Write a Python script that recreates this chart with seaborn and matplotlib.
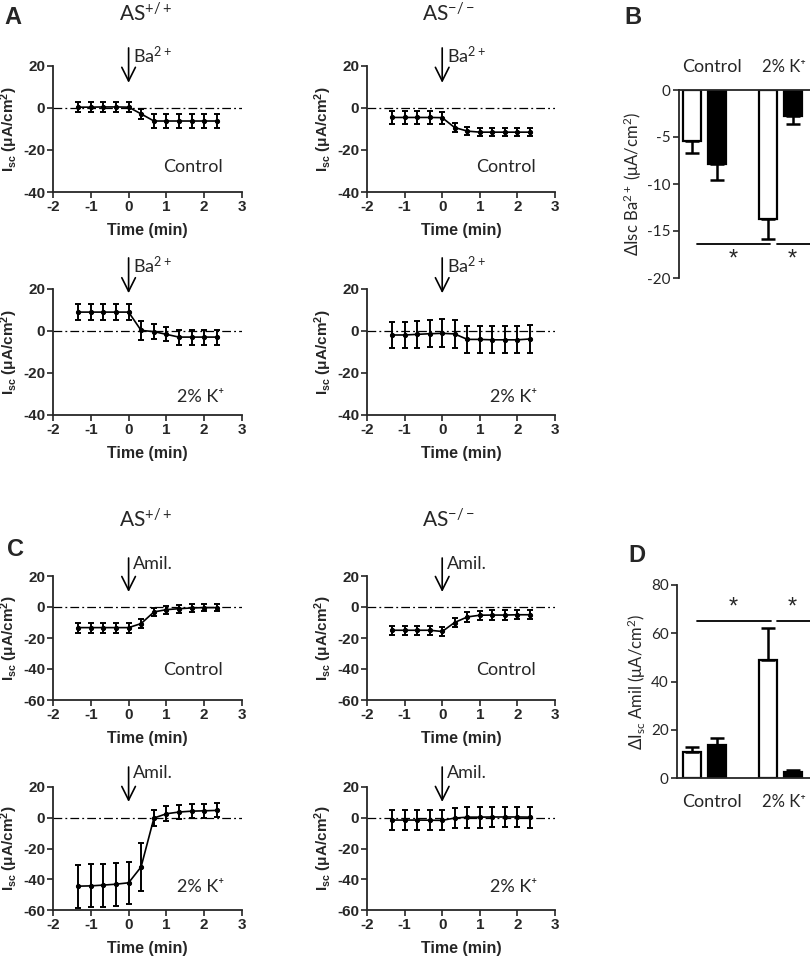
import matplotlib
matplotlib.use("Agg")
import matplotlib.pyplot as plt
import pandas as pd
import seaborn as sns

# time points (min) relative to drug addition
time_min = [-1.33, -1.0, -0.67, -0.33, 0.0, 0.33, 0.67, 1.0, 1.33, 1.67, 2.0, 2.33]

# Isc traces (uA/cm2), mean and SEM
ba_wt_ctrl = [0.4, 0.4, 0.5, 0.5, 0.4, -2.8, -6.2, -6.2, -6.2, -6.2, -6.2, -6.2]
ba_wt_ctrl_sem = [2.4, 2.4, 2.4, 2.4, 2.4, 2.4, 3.3, 3.3, 3.3, 3.3, 3.3, 3.3]
ba_ko_ctrl = [-4.5, -4.5, -4.5, -4.5, -4.6, -9.3, -11.0, -11.5, -11.5, -11.5, -11.5, -11.5]
ba_ko_ctrl_sem = [2.9, 2.9, 2.9, 2.9, 2.9, 2.0, 2.0, 2.0, 2.0, 2.0, 2.0, 2.0]
ba_wt_k = [9.0, 9.0, 9.0, 9.0, 9.0, 0.3, -0.3, -1.6, -2.9, -2.9, -2.9, -2.9]
ba_wt_k_sem = [3.7, 3.7, 3.7, 3.7, 3.7, 4.6, 3.7, 3.3, 3.6, 3.6, 3.6, 3.6]
ba_ko_k = [-1.9, -1.9, -1.6, -1.3, -1.1, -1.4, -4.0, -4.0, -4.2, -4.2, -4.2, -3.8]
ba_ko_k_sem = [6.2, 6.2, 6.3, 6.4, 6.6, 6.5, 6.3, 6.3, 6.4, 6.4, 6.4, 6.5]

amil_wt_ctrl = [-13.3, -13.3, -13.3, -13.3, -13.3, -10.7, -3.2, -1.7, -1.1, -0.6, -0.4, -0.4]
amil_wt_ctrl_sem = [3.2, 3.2, 3.2, 3.2, 3.2, 3.0, 2.5, 2.5, 2.5, 2.5, 2.5, 2.5]
amil_ko_ctrl = [-15.0, -15.0, -15.0, -15.0, -15.8, -10.0, -6.4, -5.3, -5.2, -5.2, -5.0, -5.0]
amil_ko_ctrl_sem = [3.0, 3.0, 3.0, 3.0, 3.0, 3.0, 3.0, 3.0, 3.0, 3.0, 3.0, 3.0]
amil_wt_k = [-44.5, -44.3, -43.8, -43.2, -42.3, -32.0, -0.2, 2.6, 3.7, 4.3, 4.5, 4.8]
amil_wt_k_sem = [14.0, 14.0, 14.0, 14.0, 13.8, 15.5, 5.2, 4.9, 4.5, 4.5, 4.5, 4.5]
amil_ko_k = [-1.5, -1.5, -1.5, -1.6, -1.7, -0.2, 0.4, 0.4, 0.5, 0.5, 0.5, 0.4]
amil_ko_k_sem = [6.5, 6.5, 6.5, 6.5, 6.5, 6.6, 6.8, 6.8, 6.8, 6.8, 6.8, 6.8]

# summary bars
bar_groups = ["Control", "2% K⁺"]
genotypes = ["AS+/+", "AS-/-"]
ba_delta = [-5.4, -7.9, -13.7, -2.8]
ba_delta_sem = [1.35, 1.7, 2.2, 0.8]
amil_delta = [10.8, 13.8, 49.0, 2.3]
amil_delta_sem = [1.9, 2.6, 13.3, 1.1]

sns.set_style("ticks")
plt.rcParams["font.family"] = ["Liberation Sans", "DejaVu Sans"]
plt.rcParams["mathtext.fontset"] = "custom"
plt.rcParams["mathtext.rm"] = "Lato"
plt.rcParams["mathtext.it"] = "Lato:italic"
plt.rcParams["mathtext.bf"] = "Liberation Sans:bold"
plt.rcParams["axes.unicode_minus"] = False

LATO = ["Lato", "DejaVu Sans"]
W, H = 810, 958
fig = plt.figure(figsize=(W / 100, H / 100), dpi=100)


def px_axes(x0, y0, x1, y1):
    return fig.add_axes([x0 / W, 1 - y1 / H, (x1 - x0) / W, (y1 - y0) / H])


def trace_panel(ax, mean, sem, ylim, drug, arrow, cond, cond_xy):
    df = pd.DataFrame({"time": time_min, "isc": mean})
    ax.axhline(0, color="black", lw=0.9, ls=(0, (7, 2.5, 1.5, 2.5)), zorder=1)
    ax.errorbar(time_min, mean, yerr=sem, fmt="none", ecolor="black",
                elinewidth=1.4, capsize=2.5, capthick=1.4, zorder=2)
    sns.lineplot(data=df, x="time", y="isc", color="black", lw=1.2,
                 marker="o", markersize=3, markeredgecolor="black", ax=ax, zorder=3)
    ax.set_xlim(-2, 3)
    ax.set_ylim(*ylim)
    ax.set_xticks([-2, -1, 0, 1, 2, 3])
    ax.set_yticks(list(range(ylim[0], ylim[1] + 1, 20)))
    for lab in ax.get_xticklabels() + ax.get_yticklabels():
        lab.set_fontweight("bold")
    ax.tick_params(labelsize=11, width=1.2, length=4, pad=1.5)
    for s in ["left", "bottom"]:
        ax.spines[s].set_linewidth(1.3)
    sns.despine(ax=ax)
    ax.set_xlabel("Time (min)", fontsize=11.5, fontweight="bold", labelpad=7)
    ax.set_ylabel(r"$\mathbf{I_{sc}}$ (μA/cm$\mathbf{^{2}}$)", fontsize=11,
                  fontweight="bold", labelpad=2)
    top, tip, txt_y = arrow
    ax.annotate("", xy=(0, tip), xytext=(0, top), annotation_clip=False,
                arrowprops=dict(arrowstyle="->,head_length=0.7,head_width=0.35",
                                lw=1.2, color="black", mutation_scale=14,
                                shrinkA=0, shrinkB=0))
    ax.text(0.12, txt_y, drug, fontsize=13, family=LATO, va="center", ha="left",
            clip_on=False)
    ax.text(cond_xy[0], cond_xy[1], cond, fontsize=13, family=LATO, ha="center",
            va="center", transform=ax.transAxes)


ba = r"Ba$^{2+}$"
am = "Amil."
ctrl = "Control"
kk = "2% K⁺"

# panel A
trace_panel(px_axes(53, 66, 242, 192), ba_wt_ctrl, ba_wt_ctrl_sem, (-40, 20), ba,
            (28.6, 12, 24.8), ctrl, (0.74, 0.2))
trace_panel(px_axes(367, 66, 555, 192), ba_ko_ctrl, ba_ko_ctrl_sem, (-40, 20), ba,
            (28.6, 12, 24.8), ctrl, (0.74, 0.2))
trace_panel(px_axes(53, 289, 242, 415), ba_wt_k, ba_wt_k_sem, (-40, 20), ba,
            (34.8, 18, 31.4), kk, (0.78, 0.14))
trace_panel(px_axes(367, 289, 555, 415), ba_ko_k, ba_ko_k_sem, (-40, 20), ba,
            (34.8, 18, 31.4), kk, (0.78, 0.14))

# panel C
trace_panel(px_axes(53, 576, 242, 700), amil_wt_ctrl, amil_wt_ctrl_sem, (-60, 20), am,
            (31.6, 9.7, 27.7), ctrl, (0.74, 0.24))
trace_panel(px_axes(367, 576, 555, 700), amil_ko_ctrl, amil_ko_ctrl_sem, (-60, 20), am,
            (31.6, 9.7, 27.7), ctrl, (0.74, 0.24))
trace_panel(px_axes(53, 787, 242, 910), amil_wt_k, amil_wt_k_sem, (-60, 20), am,
            (33, 10.3, 29), kk, (0.78, 0.19))
trace_panel(px_axes(367, 787, 555, 910), amil_ko_k, amil_ko_k_sem, (-60, 20), am,
            (33, 10.3, 29), kk, (0.78, 0.19))


def bar_panel(ax, values, sems, ylim, yticks, ylabel, down):
    df = pd.DataFrame({
        "group": [g for g in bar_groups for _ in genotypes],
        "genotype": genotypes * len(bar_groups),
        "value": values,
    })
    sns.barplot(data=df, x="group", y="value", hue="genotype", order=bar_groups,
                hue_order=genotypes, palette=["white", "black"], edgecolor="black",
                linewidth=1.6, width=0.66, gap=0.27, errorbar=None, legend=False,
                ax=ax, zorder=2)
    bar_conts = list(ax.containers)
    for h, cont in enumerate(bar_conts):
        for g, bar in enumerate(cont.patches):
            i = g * len(genotypes) + h
            xc = bar.get_x() + bar.get_width() / 2
            yerr = [[sems[i]], [0]] if down else [[0], [sems[i]]]
            ax.errorbar([xc], [values[i]], yerr=yerr, fmt="none", ecolor="black",
                        elinewidth=1.8, capsize=5, capthick=1.8, zorder=3)
    ax.set_ylim(*ylim)
    ax.set_yticks(yticks)
    ax.set_xticks([])
    ax.set_xlabel("")
    ax.set_ylabel(ylabel, fontsize=12, family=LATO, labelpad=2)
    for lab in ax.get_yticklabels():
        lab.set_family(LATO)
    ax.tick_params(axis="y", labelsize=11, width=1.2, length=4, pad=2)
    ax.spines["right"].set_visible(False)
    ax.spines["left"].set_linewidth(1.3)
    if down:
        ax.spines["bottom"].set_visible(False)
        ax.spines["top"].set_linewidth(1.3)
    else:
        ax.spines["top"].set_visible(False)
        ax.spines["bottom"].set_linewidth(1.3)
    # group labels
    y_lab = ylim[1] + 2.4 if down else ylim[0] - 9.9
    ax.text(0.1, y_lab, bar_groups[0], fontsize=13, ha="center", va="center",
            family=LATO, clip_on=False)
    ax.text(0.76, y_lab, bar_groups[1], fontsize=12, ha="left", va="center",
            family=LATO, clip_on=False)


# panel B
axB = px_axes(679, 90, 812, 278)
bar_panel(axB, ba_delta, ba_delta_sem, (-20, 0), [0, -5, -10, -15, -20],
          r"ΔIsc Ba$^{2+}$ (μA/cm$^{2}$)", True)
axB.set_xlim(-0.336, 1.414)
axB.plot([-0.1, 0.86], [-16.4, -16.4], color="black", lw=1.3, clip_on=False)
axB.plot([0.96, 1.414], [-16.4, -16.4], color="black", lw=1.3, clip_on=False)
axB.text(0.375, -18.0, "*", fontsize=17, ha="center", va="center")
axB.text(1.15, -18.0, "*", fontsize=17, ha="center", va="center")

# panel D
axD = px_axes(677, 585, 812, 778)
bar_panel(axD, amil_delta, amil_delta_sem, (0, 80), [0, 20, 40, 60, 80],
          r"ΔI$_{\mathrm{sc}}$ Amil (μA/cm$^{2}$)", False)
axD.set_xlim(-0.362, 1.414)
axD.plot([-0.1, 0.87], [65.1, 65.1], color="black", lw=1.3, clip_on=False)
axD.plot([0.95, 1.414], [65.1, 65.1], color="black", lw=1.3, clip_on=False)
axD.text(0.375, 70.5, "*", fontsize=17, ha="center", va="center")
axD.text(1.15, 70.5, "*", fontsize=17, ha="center", va="center")

# panel letters and genotype titles
for letter, (x, y) in {"A": (13, 17), "B": (633, 17), "C": (15, 550), "D": (637, 555)}.items():
    fig.text(x / W, 1 - y / H, letter, fontsize=17, fontweight="bold", ha="center", va="center")
for y in (14, 520):
    fig.text(145 / W, 1 - y / H, r"AS$^{+/+}$", fontsize=15, family=LATO, ha="center", va="center")
    fig.text(448 / W, 1 - y / H, r"AS$^{-/-}$", fontsize=15, family=LATO, ha="center", va="center")

fig.savefig("out.png", dpi=100)
